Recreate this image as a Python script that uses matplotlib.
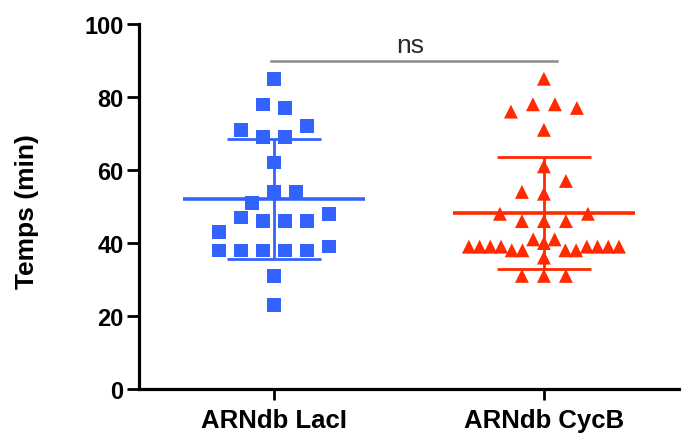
import numpy as np
import matplotlib
matplotlib.use("Agg")
import matplotlib.pyplot as plt

plt.rcParams['font.family'] = ['Liberation Sans', 'DejaVu Sans']

categories = ["ARNdb LacI", "ARNdb CycB"]
lacI = [85, 78, 77, 71, 69, 69, 72, 62, 51, 54, 54, 43, 47, 46, 46, 46, 48,
        38, 38, 38, 38, 38, 39, 31, 23]
cycB = [85, 76, 78, 78, 77, 71, 61, 54, 53.5, 57, 48, 46, 46, 46, 48,
        39, 39, 39, 39, 38, 38, 41, 40, 41, 38, 36, 38, 39, 39, 39, 39,
        31, 31, 31]
yticks = [0, 20, 40, 60, 80, 100]
sig_label = "ns"

blue = "#3363FF"
red = "#FF2A00"

def swarm_offsets(vals, row_tol=3.9, step=0.0815, max_w=0.556):
    vals = np.asarray(vals, float)
    order = np.argsort(-vals, kind="stable")
    rows = []
    cur = []
    start = None
    for i in order:
        if start is None or start - vals[i] > row_tol:
            if cur:
                rows.append(cur)
            cur = [i]
            start = vals[i]
        else:
            cur.append(i)
    if cur:
        rows.append(cur)
    off = np.zeros(len(vals))
    for r in rows:
        r = sorted(r)
        n = len(r)
        s = step if n <= 1 or (n - 1) * step <= max_w else max_w / (n - 1)
        for k, i in enumerate(r):
            off[i] = (k - (n - 1) / 2) * s
    return off

fig = plt.figure(figsize=(6.83, 4.35), dpi=100)
ax = fig.add_axes([0.2035, 0.1034, 0.7905, 0.8391])

groups = [(lacI, blue, 's', 95, 5.5), (cycB, red, '^', 100, 3.9)]
for gi, (vals, col, mk, sz, tol) in enumerate(groups):
    xc = gi + 1
    off = swarm_offsets(vals, row_tol=tol)
    ax.scatter(xc + off, vals, marker=mk, s=sz, color=col, edgecolors='none',
               zorder=2, clip_on=False)
    m = np.mean(vals)
    sd = np.std(vals, ddof=1)
    ax.hlines(m, xc - 0.337, xc + 0.337, color=col, lw=2.6, zorder=3)
    ax.hlines([m - sd, m + sd], xc - 0.174, xc + 0.174, color=col, lw=2.0, zorder=3)
    ax.vlines(xc, m - sd, m + sd, color=col, lw=2.0, zorder=3)

ax.plot([0.99, 2.05], [90, 90], color="#8a8a8a", lw=1.8, clip_on=False, zorder=1)
ax.text(1.504, 94.3, sig_label, ha='center', va='center', fontsize=19, color="#2a2a2a")

ax.set_xlim(0.5, 2.5)
ax.set_ylim(0, 100)
ax.set_yticks(yticks)
ax.set_yticklabels([str(t) for t in yticks])
ax.set_xticks([1, 2])
ax.set_xticklabels(categories)
for lab in ax.get_yticklabels():
    lab.set_fontweight('bold')
    lab.set_fontsize(17)
for lab in ax.get_xticklabels():
    lab.set_fontweight('bold')
    lab.set_fontsize(18.5)
ax.set_ylabel("Temps (min)", fontsize=19, fontweight='bold')
ax.yaxis.set_label_coords(-0.186, 0.49)

for sp in ['top', 'right']:
    ax.spines[sp].set_visible(False)
for sp in ['left', 'bottom']:
    ax.spines[sp].set_linewidth(2.3)
ax.tick_params(axis='y', direction='out', length=9, width=2.0, pad=2)
ax.tick_params(axis='x', direction='out', length=8, width=2.0, pad=6)

fig.savefig("out.png", dpi=100)
